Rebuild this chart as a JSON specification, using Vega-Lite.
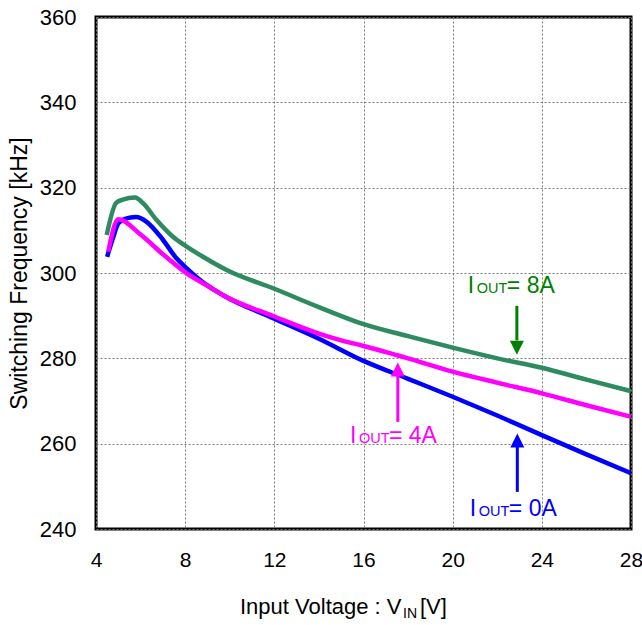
{
  "$schema": "https://vega.github.io/schema/vega-lite/v6.json",
  "width": 535,
  "height": 512,
  "autosize": "none",
  "padding": {"left": 96, "top": 17, "right": 11, "bottom": 96},
  "background": "white",
  "config": {
    "font": "Liberation Sans",
    "view": {"stroke": "black", "strokeWidth": 3},
    "axis": {
      "domain": false,
      "ticks": false,
      "grid": true,
      "gridColor": "#7a7a7a",
      "gridDash": [2, 2],
      "gridWidth": 1,
      "gridOpacity": 1,
      "labelFont": "Liberation Sans",
      "labelFontSize": 22,
      "labelColor": "black",
      "titleFont": "Liberation Sans",
      "titleFontSize": 23,
      "titleFontWeight": "normal",
      "titleColor": "black"
    }
  },
  "datasets": {
    "curves": [
      {"series": "0A", "v": 4.5, "f": 303.8},
      {"series": "0A", "v": 4.75, "f": 308.0},
      {"series": "0A", "v": 5.0, "f": 311.6},
      {"series": "0A", "v": 5.3, "f": 312.7},
      {"series": "0A", "v": 5.8, "f": 313.1},
      {"series": "0A", "v": 6.27, "f": 312.0},
      {"series": "0A", "v": 7.0, "f": 307.8},
      {"series": "0A", "v": 7.6, "f": 303.5},
      {"series": "0A", "v": 8.07, "f": 301.1},
      {"series": "0A", "v": 8.96, "f": 297.2},
      {"series": "0A", "v": 9.7, "f": 294.8},
      {"series": "0A", "v": 12, "f": 289.3},
      {"series": "0A", "v": 14, "f": 284.6},
      {"series": "0A", "v": 16, "f": 279.4},
      {"series": "0A", "v": 18, "f": 275.2},
      {"series": "0A", "v": 20, "f": 271.0},
      {"series": "0A", "v": 22, "f": 266.6},
      {"series": "0A", "v": 24, "f": 262.0},
      {"series": "0A", "v": 26, "f": 257.5},
      {"series": "0A", "v": 28, "f": 253.1},
      {"series": "4A", "v": 4.55, "f": 305.0},
      {"series": "4A", "v": 5.0, "f": 312.6},
      {"series": "4A", "v": 6.0, "f": 309.0},
      {"series": "4A", "v": 7.0, "f": 304.4},
      {"series": "4A", "v": 8.07, "f": 299.9},
      {"series": "4A", "v": 9.0, "f": 297.0},
      {"series": "4A", "v": 9.7, "f": 294.8},
      {"series": "4A", "v": 12, "f": 289.8},
      {"series": "4A", "v": 14, "f": 285.8},
      {"series": "4A", "v": 15, "f": 284.2},
      {"series": "4A", "v": 16, "f": 282.9},
      {"series": "4A", "v": 18, "f": 280.0},
      {"series": "4A", "v": 20, "f": 276.9},
      {"series": "4A", "v": 22, "f": 274.3},
      {"series": "4A", "v": 24, "f": 271.8},
      {"series": "4A", "v": 26, "f": 269.0},
      {"series": "4A", "v": 28, "f": 266.3},
      {"series": "8A", "v": 4.48, "f": 308.9},
      {"series": "8A", "v": 4.9, "f": 316.4},
      {"series": "8A", "v": 5.2, "f": 317.2},
      {"series": "8A", "v": 5.75, "f": 317.7},
      {"series": "8A", "v": 6.12, "f": 316.3},
      {"series": "8A", "v": 6.72, "f": 312.4},
      {"series": "8A", "v": 7.45, "f": 308.5},
      {"series": "8A", "v": 8.07, "f": 306.2},
      {"series": "8A", "v": 8.8, "f": 303.8},
      {"series": "8A", "v": 9.86, "f": 300.7},
      {"series": "8A", "v": 12, "f": 296.3},
      {"series": "8A", "v": 14, "f": 292.0},
      {"series": "8A", "v": 16, "f": 288.0},
      {"series": "8A", "v": 18, "f": 285.2},
      {"series": "8A", "v": 20, "f": 282.5},
      {"series": "8A", "v": 22, "f": 280.0},
      {"series": "8A", "v": 24, "f": 277.8},
      {"series": "8A", "v": 26, "f": 275.0},
      {"series": "8A", "v": 28, "f": 272.3}
    ],
    "arrows": [
      {"series": "8A", "v": 22.88, "f": 292.3, "f2": 284.2},
      {"series": "4A", "v": 17.54, "f": 276.3, "f2": 265.1},
      {"series": "0A", "v": 22.9, "f": 259.7, "f2": 248.7}
    ],
    "heads": [
      {"series": "8A", "v": 22.88, "f": 282.5, "dir": "down"},
      {"series": "4A", "v": 17.54, "f": 277.4, "dir": "up"},
      {"series": "0A", "v": 22.9, "f": 260.75, "dir": "up"}
    ],
    "labels": [
      {"series": "8A", "v": 20.68, "f": 295.3, "tail": "= 8A"},
      {"series": "4A", "v": 15.39, "f": 260.1, "tail": "= 4A"},
      {"series": "0A", "v": 20.77, "f": 243.05, "tail": "= 0A"}
    ],
    "xtitle": [
      {"main": "Input Voltage : V", "sub": "IN", "unit": "[V]"}
    ]
  },
  "layer": [
    {
      "data": {"name": "curves"},
      "mark": {"type": "line", "strokeWidth": 4.5, "interpolate": "monotone", "clip": true},
      "encoding": {
        "x": {
          "field": "v",
          "type": "quantitative",
          "scale": {"domain": [4, 28], "nice": false, "zero": false},
          "axis": {
            "title": null,
            "values": [4, 8, 12, 16, 20, 24, 28],
            "labelPadding": 20,
            "labelFontSize": 21,
            "labelFlush": false
          }
        },
        "y": {
          "field": "f",
          "type": "quantitative",
          "scale": {"domain": [240, 360], "nice": false, "zero": false},
          "axis": {
            "title": "Switching Frequency [kHz]",
            "values": [240, 260, 280, 300, 320, 340, 360],
            "labelPadding": 20,
            "titlePadding": 8,
            "labelFlush": false
          }
        },
        "color": {
          "field": "series",
          "type": "nominal",
          "scale": {"domain": ["0A", "4A", "8A"], "range": ["#0000ff", "#ff00ff", "#2e8b60"]},
          "legend": null
        }
      }
    },
    {
      "data": {"name": "arrows"},
      "mark": {"type": "rule", "strokeWidth": 3},
      "encoding": {
        "x": {"field": "v", "type": "quantitative"},
        "y": {"field": "f", "type": "quantitative"},
        "y2": {"field": "f2"},
        "color": {
          "field": "series",
          "type": "nominal",
          "scale": {"domain": ["0A", "4A", "8A"], "range": ["#0000ff", "#ff00ff", "#008000"]},
          "legend": null
        }
      }
    },
    {
      "data": {"name": "heads"},
      "mark": {"type": "point", "filled": true, "opacity": 1, "size": 196, "strokeWidth": 0},
      "encoding": {
        "x": {"field": "v", "type": "quantitative"},
        "y": {"field": "f", "type": "quantitative"},
        "shape": {
          "field": "dir",
          "type": "nominal",
          "scale": {"domain": ["down", "up"], "range": ["M-1,-1L1,-1L0,1Z", "M-1,1L1,1L0,-1Z"]},
          "legend": null
        },
        "color": {
          "field": "series",
          "type": "nominal",
          "scale": {"domain": ["0A", "4A", "8A"], "range": ["#0000ff", "#ff00ff", "#008000"]},
          "legend": null
        }
      }
    },
    {
      "data": {"name": "labels"},
      "mark": {"type": "text", "align": "left", "baseline": "alphabetic", "fontSize": 23, "font": "Liberation Sans"},
      "encoding": {
        "x": {"field": "v", "type": "quantitative"},
        "y": {"field": "f", "type": "quantitative"},
        "text": {"value": "I"},
        "color": {
          "field": "series",
          "type": "nominal",
          "scale": {"domain": ["0A", "4A", "8A"], "range": ["#0000ff", "#ff00ff", "#008000"]},
          "legend": null
        }
      }
    },
    {
      "data": {"name": "labels"},
      "mark": {"type": "text", "align": "left", "baseline": "alphabetic", "fontSize": 14.5, "dx": 9, "font": "Liberation Sans"},
      "encoding": {
        "x": {"field": "v", "type": "quantitative"},
        "y": {"field": "f", "type": "quantitative"},
        "text": {"value": "OUT"},
        "color": {
          "field": "series",
          "type": "nominal",
          "scale": {"domain": ["0A", "4A", "8A"], "range": ["#0000ff", "#ff00ff", "#008000"]},
          "legend": null
        }
      }
    },
    {
      "data": {"name": "labels"},
      "mark": {"type": "text", "align": "left", "baseline": "alphabetic", "fontSize": 23, "dx": 39, "font": "Liberation Sans"},
      "encoding": {
        "x": {"field": "v", "type": "quantitative"},
        "y": {"field": "f", "type": "quantitative"},
        "text": {"field": "tail"},
        "color": {
          "field": "series",
          "type": "nominal",
          "scale": {"domain": ["0A", "4A", "8A"], "range": ["#0000ff", "#ff00ff", "#008000"]},
          "legend": null
        }
      }
    },
    {
      "data": {"name": "xtitle"},
      "mark": {"type": "text", "align": "left", "baseline": "alphabetic", "fontSize": 22, "font": "Liberation Sans", "color": "black", "clip": false},
      "encoding": {
        "x": {"datum": 10.46},
        "y": {"datum": 220.1},
        "text": {"field": "main"}
      }
    },
    {
      "data": {"name": "xtitle"},
      "mark": {"type": "text", "align": "left", "baseline": "alphabetic", "fontSize": 14, "dx": 163, "dy": 4, "font": "Liberation Sans", "color": "black", "clip": false},
      "encoding": {
        "x": {"datum": 10.46},
        "y": {"datum": 220.1},
        "text": {"field": "sub"}
      }
    },
    {
      "data": {"name": "xtitle"},
      "mark": {"type": "text", "align": "left", "baseline": "alphabetic", "fontSize": 22, "dx": 180, "font": "Liberation Sans", "color": "black", "clip": false},
      "encoding": {
        "x": {"datum": 10.46},
        "y": {"datum": 220.1},
        "text": {"field": "unit"}
      }
    }
  ],
  "resolve": {"scale": {"color": "independent"}}
}
